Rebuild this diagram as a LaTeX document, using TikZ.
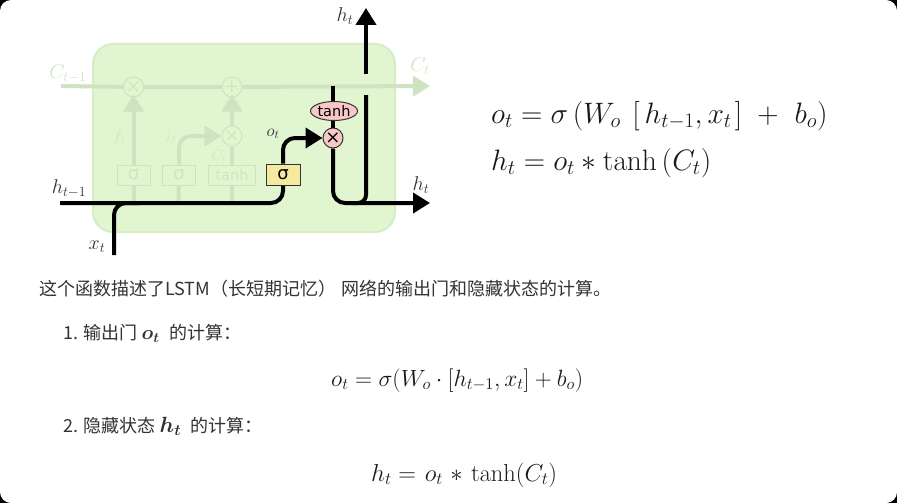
\documentclass[tikz,border=0pt]{standalone}
\usepackage{fix-cm}
\usepackage{amsmath,bm}
\usepackage[no-math]{fontspec}
\setmainfont{Noto Sans CJK SC}
\newfontfamily\djv{DejaVu Sans}
\usetikzlibrary{arrows.meta,shapes.geometric}
\definecolor{cellfill}{HTML}{E0F5D0}
\definecolor{celledge}{HTML}{D6EDC6}
\definecolor{fadeline}{HTML}{CFE3C0}
\definecolor{fadetext}{HTML}{D0E6C1}
\definecolor{bodytext}{HTML}{333333}
\definecolor{gatefill}{HTML}{F5E9A0}
\definecolor{opfill}{HTML}{F8C8C8}
\newcommand{\fs}[1]{\fontsize{#1}{#1}\selectfont}
\tikzset{
 fadewire/.style={draw=fadeline,line width=4pt},
 fadearrow/.style={fadewire,-{Triangle[length=17pt,width=20pt]}},
 wire/.style={draw=black,line width=4pt},
 wirearrow/.style={wire,-{Triangle[length=17pt,width=20pt]}},
 fadeop/.style={circle,draw=fadeline,line width=1pt,fill=cellfill,minimum size=20pt,inner sep=0pt,text=fadetext},
 fadebox/.style={rectangle,draw=fadeline,line width=1pt,fill=cellfill,minimum height=20pt,inner sep=0pt,text=fadetext},
 op/.style={circle,draw=black!80,line width=1pt,fill=opfill,minimum size=20pt,inner sep=0pt},
 lab/.style={inner sep=0pt,text=black!80},
 fadelab/.style={inner sep=0pt,text=fadetext},
 para/.style={inner sep=0pt,anchor=base west,text=bodytext},
 eqn/.style={inner sep=0pt,anchor=base west,text=black!90},
}
\begin{document}
\begin{tikzpicture}[x=1pt,y=-1pt]
\useasboundingbox (0,0) rectangle (897,503);
\fill[black] (0,0) rectangle (897,503);
\fill[white,rounded corners=11pt] (0,0) rectangle (897,503);
% cell
\draw[fill=cellfill,draw=celledge,line width=2pt,rounded corners=20pt] (93,44) rectangle (395,232);
% coordinates
\coordinate (cstart) at (61,86);
\coordinate (cend) at (430,86);
\coordinate (hstart) at (60,203);
\coordinate (hend) at (430,203);
\coordinate (xin) at (114,255);
\coordinate (xjoin) at (140,203);
\coordinate (tanhtop) at (333,86);
\coordinate (upjoin) at (366,203);
\coordinate (uplow) at (366,95);
\coordinate (uphigh) at (366,74);
\coordinate (uptip) at (366,8);
\coordinate (m1) at (133.5,203);
\coordinate (m2) at (178.5,203);
\coordinate (m3) at (232,203);
% faded parts
\path node[fadeop] (mulc) at (133.5,87) {\djv\fs{18}×}
      node[fadeop] (addc) at (232,87) {\djv\fs{18}+}
      node[fadeop] (mult) at (232,136) {\djv\fs{18}×}
      node[fadebox,minimum width=33pt] (sf) at (133.5,175) {\djv\fs{18}σ}
      node[fadebox,minimum width=33pt] (si) at (179,175) {\djv\fs{18}σ}
      node[fadebox,minimum width=47pt] (tc) at (232,175) {\djv\fs{14.5}tanh};
\draw[fadewire] (cstart) -- (mulc);
\draw[fadewire] (mulc) -- (addc);
\draw[fadearrow] (addc) -- (cend);
\draw[fadewire] (m1) -- (sf);
\draw[fadewire] (m2) -- (si);
\draw[fadewire] (m3) -- (tc);
\draw[fadewire] (tc) -- (mult);
\draw[fadearrow] (sf.north) -- ([yshift=3pt]mulc.south);
\draw[fadearrow] (mult.north) -- ([yshift=3pt]addc.south);
\draw[fadearrow,rounded corners=12pt] (si.north) |- (mult.west);
% black wires and nodes
\node[rectangle,draw=black!80,line width=1pt,fill=gatefill,minimum width=34pt,minimum height=21pt,inner sep=0pt] (so) at (283,174.5) {\djv\fs{18}σ};
\node[op] (mo) at (333,138) {\djv\fs{18}×};
\draw[wire] (tanhtop) -- (mo);
\node[ellipse,draw=black!80,line width=1pt,fill=opfill,minimum width=47pt,minimum height=19pt,inner sep=0pt] (tanhn) at (334,111) {\djv\fs{14.5}tanh};
\draw[wire,rounded corners=12pt] (hstart) -| (so.south);
\draw[wire,rounded corners=12pt] (xin) |- (xjoin);
\draw[wirearrow,rounded corners=12pt] (so.north) |- (mo.west);
\draw[wirearrow,rounded corners=12pt] (mo.south) |- (hend);
\draw[wire,rounded corners=8pt] (uplow) |- ([xshift=-14pt]upjoin);
\draw[wirearrow] (uphigh) -- (uptip);
% labels
\node[fadelab] (lc1) at (68,74) {\fs{20}$C_{t-1}$};
\node[fadelab] (lc2) at (420,66) {\fs{20}$C_t$};
\node[fadelab] (lf) at (119,137) {\fs{17}$f_t$};
\node[fadelab] (li) at (171,137) {\fs{17}$i_t$};
\node[fadelab] (lct) at (219,155) {\fs{15}$\tilde{C}_t$};
\node[lab] (lh1) at (69,189) {\fs{20}$h_{t-1}$};
\node[lab] (lx) at (97,247) {\fs{20}$x_t$};
\node[lab] (lo) at (273,134) {\fs{17}$o_t$};
\node[lab] (lh2) at (345,16) {\fs{20}$h_t$};
\node[lab] (lh3) at (421,185) {\fs{20}$h_t$};
% right equations
\node[eqn] (e1) at (491,123) {\fs{29.5}$o_t = \sigma\,(W_o\ \,[\,h_{t-1},x_t\kern3pt]\kern2pt\ +\kern3pt\ b_o)$};
\node[eqn] (e2) at (491,170) {\fs{29.5}$h_t = o_t * \tanh\,(C_t)$};
% body text
\node[para] (p0) at (39,295) {\fs{18}这个函数描述了LSTM（长短期记忆）\hspace{5pt}网络的输出门和隐藏状态的计算。};
\node[para] (p1) at (63,339) {\fs{18}1. 输出门 \fs{20}$\bm{o_t}$\fs{18}\hspace{10pt}的计算：};
\node[eqn] (e3) at (331,386) {\fs{23.5}$o_t = \sigma(W_o \cdot [h_{t-1}, x_t] + b_o)$};
\node[para] (p2) at (63,432) {\fs{18}2. 隐藏状态 \fs{22}$\bm{h_t}$\fs{18}\hspace{9pt}的计算：};
\node[eqn] (e4) at (371,481) {\fs{24.5}$h_t =\kern2pt o_t \kern2pt*\kern3pt \tanh(C_t)$};
\end{tikzpicture}
\end{document}
